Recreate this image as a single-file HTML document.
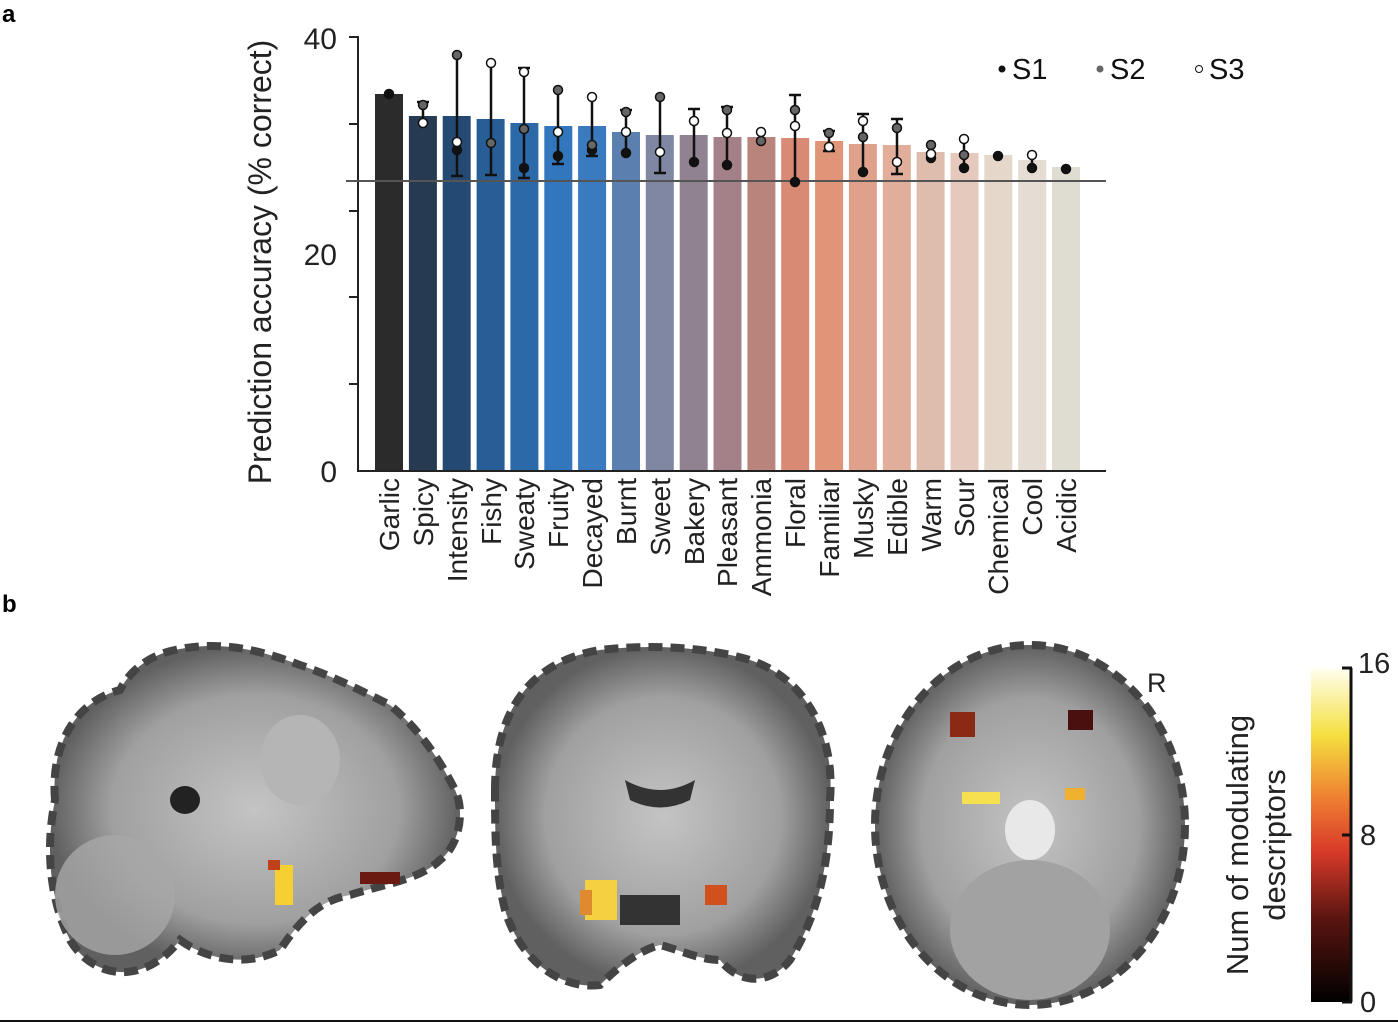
<!DOCTYPE html>
<html><head><meta charset="utf-8"><style>
html,body{margin:0;padding:0;background:#fff;width:1398px;height:1025px;overflow:hidden}
svg{display:block;font-family:"Liberation Sans",sans-serif}
</style></head><body>
<svg width="1398" height="1025" viewBox="0 0 1398 1025" xmlns="http://www.w3.org/2000/svg">
<defs>
<linearGradient id="cb" x1="0" y1="1" x2="0" y2="0">
<stop offset="0" stop-color="#000"/><stop offset="0.25" stop-color="#5a1510"/><stop offset="0.45" stop-color="#d83a2a"/><stop offset="0.6" stop-color="#ee7a30"/><stop offset="0.8" stop-color="#f5e040"/><stop offset="1" stop-color="#fffff0"/>
</linearGradient>
<radialGradient id="br" cx="0.5" cy="0.5" r="0.5"><stop offset="0" stop-color="#c4c4c4"/><stop offset="0.7" stop-color="#a0a0a0"/><stop offset="1" stop-color="#606060"/></radialGradient>
</defs>
<text x="2" y="22" font-size="24" font-weight="bold">a</text>
<text x="2" y="612" font-size="24" font-weight="bold">b</text>
<g>
<rect x="375" y="94" width="28" height="377" fill="#2b2b2b"/>
<rect x="408.9" y="116" width="28" height="355" fill="#263a52"/>
<rect x="442.7" y="116" width="28" height="355" fill="#244a73"/>
<rect x="476.6" y="119" width="28" height="352" fill="#285e96"/>
<rect x="510.4" y="123" width="28" height="348" fill="#2c69a8"/>
<rect x="544.3" y="126" width="28" height="345" fill="#3276be"/>
<rect x="578.1" y="126" width="28" height="345" fill="#3a7bc0"/>
<rect x="612" y="132" width="28" height="339" fill="#5b7fae"/>
<rect x="645.8" y="135" width="28" height="336" fill="#8087a2"/>
<rect x="679.7" y="135" width="28" height="336" fill="#908291"/>
<rect x="713.5" y="137" width="28" height="334" fill="#a48088"/>
<rect x="747.4" y="137" width="28" height="334" fill="#b8847c"/>
<rect x="781.2" y="138" width="28" height="333" fill="#d88a74"/>
<rect x="815.1" y="141" width="28" height="330" fill="#e09579"/>
<rect x="848.9" y="144" width="28" height="327" fill="#dfa18c"/>
<rect x="882.8" y="145" width="28" height="326" fill="#e1ae9c"/>
<rect x="916.6" y="152" width="28" height="319" fill="#dfbdad"/>
<rect x="950.5" y="153" width="28" height="318" fill="#e4c9bc"/>
<rect x="984.3" y="155" width="28" height="316" fill="#e6d7cb"/>
<rect x="1018.2" y="160" width="28" height="311" fill="#e5ddd3"/>
<rect x="1052" y="167" width="28" height="304" fill="#dfddd2"/>
</g>
<g stroke="#222" stroke-width="2">
<line x1="358" y1="36" x2="358" y2="471"/>
<line x1="357" y1="471" x2="1106" y2="471"/>
<line x1="349" y1="37" x2="358" y2="37"/><line x1="349" y1="124" x2="358" y2="124"/><line x1="349" y1="211" x2="358" y2="211"/><line x1="349" y1="297" x2="358" y2="297"/><line x1="349" y1="384" x2="358" y2="384"/>
</g>
<line x1="346" y1="181" x2="1106" y2="181" stroke="#555" stroke-width="2"/>
<g font-size="30" text-anchor="end" fill="#222">
<text x="337" y="49">40</text><text x="337" y="265">20</text><text x="337" y="482">0</text>
</g>
<text transform="translate(271,262) rotate(-90)" font-size="32" text-anchor="middle" fill="#222">Prediction accuracy (% correct)</text>
<g stroke="#111" stroke-width="2.5" fill="none">
<path d="M423 102V118M417 102H429"/>
<path d="M457 54V176M451 176H463"/>
<path d="M491 63V175M485 175H497"/>
<path d="M524 68V178M518 68H530M518 178H530"/>
<path d="M558 89V164M552 164H564"/>
<path d="M592 97V156M586 156H598"/>
<path d="M626 110V155M620 110H632"/>
<path d="M660 97V173M654 173H666"/>
<path d="M694 109V163M688 109H700"/>
<path d="M727 107V166M721 107H733"/>
<path d="M761 131V143"/>
<path d="M795 95V182M789 95H801"/>
<path d="M829 131V151M823 131H835M823 151H835"/>
<path d="M863 114V174M857 114H869"/>
<path d="M897 119V174M891 119H903M891 174H903"/>
<path d="M931 144V159"/>
<path d="M964 139V170"/>
<path d="M1032 153V170"/>
</g>
<g stroke="#111" stroke-width="1.5">
<g fill="#111">
<circle cx="389" cy="94" r="4.5"/><circle cx="457" cy="150" r="4.5"/><circle cx="524" cy="168" r="4.5"/><circle cx="558" cy="156" r="4.5"/><circle cx="592" cy="150" r="4.5"/><circle cx="626" cy="153" r="4.5"/><circle cx="694" cy="162" r="4.5"/><circle cx="727" cy="165" r="4.5"/><circle cx="795" cy="182" r="4.5"/><circle cx="863" cy="172" r="4.5"/><circle cx="931" cy="158" r="4.5"/><circle cx="964" cy="168" r="4.5"/><circle cx="998" cy="156" r="4.5"/><circle cx="1032" cy="168" r="4.5"/><circle cx="1066" cy="169" r="4.5"/>
</g>
<g fill="#666">
<circle cx="423" cy="105" r="4.5"/><circle cx="457" cy="55" r="4.5"/><circle cx="491" cy="143" r="4.5"/><circle cx="524" cy="129" r="4.5"/><circle cx="558" cy="90" r="4.5"/><circle cx="592" cy="145" r="4.5"/><circle cx="626" cy="112" r="4.5"/><circle cx="660" cy="97" r="4.5"/><circle cx="727" cy="110" r="4.5"/><circle cx="761" cy="141" r="4.5"/><circle cx="795" cy="110" r="4.5"/><circle cx="829" cy="133" r="4.5"/><circle cx="863" cy="137" r="4.5"/><circle cx="897" cy="128" r="4.5"/><circle cx="931" cy="145" r="4.5"/><circle cx="964" cy="155" r="4.5"/>
</g>
<g fill="#fff">
<circle cx="423" cy="123" r="4.5"/><circle cx="457" cy="142" r="4.5"/><circle cx="491" cy="63" r="4.5"/><circle cx="524" cy="72" r="4.5"/><circle cx="558" cy="132" r="4.5"/><circle cx="592" cy="97" r="4.5"/><circle cx="626" cy="132" r="4.5"/><circle cx="660" cy="152" r="4.5"/><circle cx="694" cy="121" r="4.5"/><circle cx="727" cy="133" r="4.5"/><circle cx="761" cy="132" r="4.5"/><circle cx="795" cy="126" r="4.5"/><circle cx="829" cy="147" r="4.5"/><circle cx="863" cy="121" r="4.5"/><circle cx="897" cy="162" r="4.5"/><circle cx="931" cy="154" r="4.5"/><circle cx="964" cy="139" r="4.5"/><circle cx="1032" cy="155" r="4.5"/>
</g>
</g>
<g font-size="29" fill="#111">
<circle cx="1002" cy="69" r="3.5" fill="#111"/><text x="1012" y="79">S1</text>
<circle cx="1100" cy="69" r="3.5" fill="#666"/><text x="1110" y="79">S2</text>
<circle cx="1199" cy="69" r="3.5" fill="#fff" stroke="#111"/><text x="1209" y="79">S3</text>
</g>
<g font-size="28" fill="#222" text-anchor="end">
<text transform="translate(399,478) rotate(-90)">Garlic</text>
<text transform="translate(433,478) rotate(-90)">Spicy</text>
<text transform="translate(467,478) rotate(-90)">Intensity</text>
<text transform="translate(501,478) rotate(-90)">Fishy</text>
<text transform="translate(534,478) rotate(-90)">Sweaty</text>
<text transform="translate(568,478) rotate(-90)">Fruity</text>
<text transform="translate(602,478) rotate(-90)">Decayed</text>
<text transform="translate(636,478) rotate(-90)">Burnt</text>
<text transform="translate(670,478) rotate(-90)">Sweet</text>
<text transform="translate(704,478) rotate(-90)">Bakery</text>
<text transform="translate(737,478) rotate(-90)">Pleasant</text>
<text transform="translate(771,478) rotate(-90)">Ammonia</text>
<text transform="translate(805,478) rotate(-90)">Floral</text>
<text transform="translate(839,478) rotate(-90)">Familiar</text>
<text transform="translate(873,478) rotate(-90)">Musky</text>
<text transform="translate(907,478) rotate(-90)">Edible</text>
<text transform="translate(941,478) rotate(-90)">Warm</text>
<text transform="translate(974,478) rotate(-90)">Sour</text>
<text transform="translate(1008,478) rotate(-90)">Chemical</text>
<text transform="translate(1042,478) rotate(-90)">Cool</text>
<text transform="translate(1076,478) rotate(-90)">Acidic</text>
</g>
<path d="M55 800 C50 740 80 700 120 690 C130 670 150 655 175 650 C220 640 260 650 300 665 C330 675 360 690 390 705 C420 730 440 760 455 790 C465 810 460 845 440 860 C420 880 380 885 350 895 C320 900 300 920 280 950 C240 970 200 955 180 940 C140 990 90 975 70 940 C50 900 45 850 55 800 Z" fill="url(#br)" stroke="#444" stroke-width="8" stroke-dasharray="14 8"/>
<ellipse cx="115" cy="895" rx="60" ry="60" fill="#a8a8a8" opacity="0.8"/>
<ellipse cx="185" cy="800" rx="15" ry="14" fill="#222"/>
<ellipse cx="300" cy="760" rx="40" ry="45" fill="#b5b5b5"/>
<rect x="275" y="865" width="18" height="40" fill="#f5d030"/><rect x="268" y="860" width="12" height="10" fill="#c0401a"/>
<rect x="360" y="872" width="40" height="12" fill="#6a1a10"/>
<path d="M495 790 C495 700 540 660 600 650 C640 645 700 645 750 660 C810 680 835 740 830 800 C830 870 815 920 790 960 C770 985 740 985 720 960 C700 960 680 950 660 945 C640 950 620 965 600 985 C560 990 520 960 505 910 C495 870 495 830 495 790 Z" fill="url(#br)" stroke="#444" stroke-width="8" stroke-dasharray="14 8"/>
<path d="M625 780 Q660 800 695 780 L690 800 Q660 815 630 800 Z" fill="#333"/>
<rect x="620" y="895" width="60" height="30" fill="#333"/>
<rect x="585" y="880" width="32" height="40" fill="#f5d040"/><rect x="580" y="890" width="12" height="25" fill="#e08a30"/>
<rect x="705" y="885" width="22" height="20" fill="#d0501e"/>
<ellipse cx="1030" cy="825" rx="155" ry="180" fill="url(#br)" stroke="#444" stroke-width="8" stroke-dasharray="14 8"/>
<ellipse cx="1030" cy="930" rx="80" ry="70" fill="#a2a2a2"/>
<ellipse cx="1030" cy="830" rx="25" ry="30" fill="#e8e8e8"/>
<rect x="962" y="792" width="38" height="12" fill="#f5e050"/><rect x="1065" y="788" width="20" height="12" fill="#f0b030"/>
<rect x="950" y="712" width="25" height="25" fill="#8a2a15"/><rect x="1068" y="710" width="25" height="20" fill="#4a1010"/>
<text x="1147" y="692" font-size="27" fill="#222">R</text>
<rect x="1311" y="668" width="40" height="334" fill="url(#cb)"/>
<g stroke="#111" stroke-width="3"><line x1="1351" y1="668" x2="1351" y2="1002"/><line x1="1342" y1="668" x2="1352" y2="668"/><line x1="1342" y1="835" x2="1352" y2="835"/><line x1="1342" y1="1002" x2="1352" y2="1002"/></g>
<g font-size="29" fill="#222"><text x="1358" y="673">16</text><text x="1360" y="845">8</text><text x="1360" y="1012">0</text></g>
<text transform="translate(1248,845) rotate(-90)" font-size="31" text-anchor="middle" fill="#222">Num of modulating</text>
<text transform="translate(1285,845) rotate(-90)" font-size="31" text-anchor="middle" fill="#222">descriptors</text>
<line x1="0" y1="1021" x2="1398" y2="1021" stroke="#111" stroke-width="2"/>
</svg>
</body></html>
